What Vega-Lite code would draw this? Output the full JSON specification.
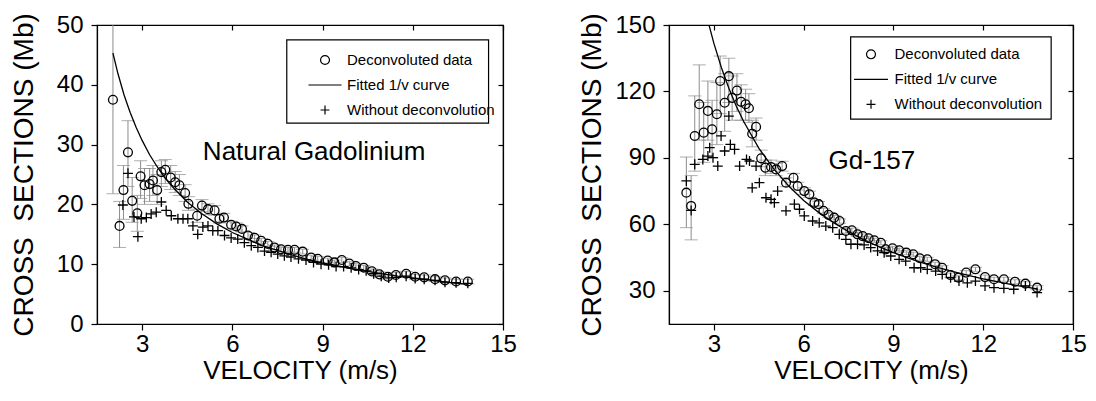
{
  "$schema": "https://vega.github.io/schema/vega-lite/v6.json",
  "padding": {"left": 9, "top": 12, "right": 5, "bottom": 5},
  "spacing": 61,
  "resolve": {"scale": {"shape": "independent"}, "legend": {"shape": "independent"}},
  "config": {
    "font": "Liberation Sans",
    "view": {"stroke": "black", "strokeWidth": 1.2},
    "axis": {"grid": false, "domainColor": "black", "domainWidth": 1.2, "tickColor": "black", "tickWidth": 1.2, "labelColor": "black", "titleColor": "black", "labelFontSize": 24, "labelFont": "Liberation Sans", "titleFont": "Liberation Sans", "titleFontWeight": "normal", "tickSize": 6, "labelFlush": false}
  },
  "datasets": {
    "natD": [
      {"series":"Deconvoluted data","v":2.03,"y":37.5,"lo":21.8,"hi":55},
      {"series":"Deconvoluted data","v":2.25,"y":16.4,"lo":12.8,"hi":20.5},
      {"series":"Deconvoluted data","v":2.38,"y":22.4,"lo":17.5,"hi":26.5},
      {"series":"Deconvoluted data","v":2.53,"y":28.7,"lo":23,"hi":34},
      {"series":"Deconvoluted data","v":2.67,"y":20.6,"lo":17,"hi":24.5},
      {"series":"Deconvoluted data","v":2.84,"y":18.5,"lo":15.5,"hi":21.5},
      {"series":"Deconvoluted data","v":2.95,"y":24.7,"lo":21,"hi":27.3},
      {"series":"Deconvoluted data","v":3.08,"y":23.2,"lo":20,"hi":26},
      {"series":"Deconvoluted data","v":3.25,"y":23.4,"lo":20.5,"hi":26},
      {"series":"Deconvoluted data","v":3.36,"y":24,"lo":21.5,"hi":26.5},
      {"series":"Deconvoluted data","v":3.5,"y":22.4,"lo":20,"hi":25},
      {"series":"Deconvoluted data","v":3.64,"y":25.4,"lo":23,"hi":27.3},
      {"series":"Deconvoluted data","v":3.77,"y":25.8,"lo":23.5,"hi":27.5},
      {"series":"Deconvoluted data","v":3.95,"y":24.5,"lo":22.5,"hi":26.5},
      {"series":"Deconvoluted data","v":4.1,"y":23.7,"lo":22,"hi":25.5},
      {"series":"Deconvoluted data","v":4.24,"y":23.2,"lo":21.5,"hi":25},
      {"series":"Deconvoluted data","v":4.43,"y":21.9,"lo":20.5,"hi":23.3},
      {"series":"Deconvoluted data","v":4.54,"y":20.1,"lo":19,"hi":21.3},
      {"series":"Deconvoluted data","v":4.83,"y":18.1,"lo":17,"hi":19.2},
      {"series":"Deconvoluted data","v":4.99,"y":19.8,"lo":18.8,"hi":20.8},
      {"series":"Deconvoluted data","v":5.19,"y":19.2,"lo":18.3,"hi":20.1},
      {"series":"Deconvoluted data","v":5.41,"y":19.0,"lo":18.2,"hi":19.8},
      {"series":"Deconvoluted data","v":5.57,"y":17.6,"lo":16.9,"hi":18.3},
      {"series":"Deconvoluted data","v":5.72,"y":17.8,"lo":17.1,"hi":18.5},
      {"series":"Deconvoluted data","v":5.96,"y":16.6,"lo":16,"hi":17.2},
      {"series":"Deconvoluted data","v":6.13,"y":16.3,"lo":15.7,"hi":16.9},
      {"series":"Deconvoluted data","v":6.32,"y":15.9,"lo":15.4,"hi":16.4},
      {"series":"Deconvoluted data","v":6.52,"y":14.8,"lo":14.3,"hi":15.3},
      {"series":"Deconvoluted data","v":6.74,"y":14.4,"lo":13.9,"hi":14.9},
      {"series":"Deconvoluted data","v":6.96,"y":13.9,"lo":13.5,"hi":14.3},
      {"series":"Deconvoluted data","v":7.18,"y":13.4,"lo":13,"hi":13.8},
      {"series":"Deconvoluted data","v":7.4,"y":12.8,"lo":12.4,"hi":13.2},
      {"series":"Deconvoluted data","v":7.62,"y":12.5,"lo":12.1,"hi":12.9},
      {"series":"Deconvoluted data","v":7.85,"y":12.4,"lo":12,"hi":12.8},
      {"series":"Deconvoluted data","v":8.07,"y":12.4,"lo":12,"hi":12.8},
      {"series":"Deconvoluted data","v":8.34,"y":12.1,"lo":11.7,"hi":12.5},
      {"series":"Deconvoluted data","v":8.62,"y":11.1,"lo":10.7,"hi":11.5},
      {"series":"Deconvoluted data","v":8.84,"y":10.9,"lo":10.5,"hi":11.3},
      {"series":"Deconvoluted data","v":9.17,"y":10.6,"lo":10.2,"hi":11},
      {"series":"Deconvoluted data","v":9.39,"y":10.3,"lo":9.9,"hi":10.7},
      {"series":"Deconvoluted data","v":9.64,"y":10.7,"lo":10.3,"hi":11.1},
      {"series":"Deconvoluted data","v":9.89,"y":10.1,"lo":9.7,"hi":10.5},
      {"series":"Deconvoluted data","v":10.11,"y":9.7,"lo":9.3,"hi":10.1},
      {"series":"Deconvoluted data","v":10.37,"y":9.4,"lo":9,"hi":9.8},
      {"series":"Deconvoluted data","v":10.64,"y":8.8,"lo":8.4,"hi":9.2},
      {"series":"Deconvoluted data","v":10.89,"y":8.3,"lo":7.9,"hi":8.7},
      {"series":"Deconvoluted data","v":11.17,"y":7.9,"lo":7.5,"hi":8.3},
      {"series":"Deconvoluted data","v":11.44,"y":8.2,"lo":7.8,"hi":8.6},
      {"series":"Deconvoluted data","v":11.78,"y":8.4,"lo":8,"hi":8.8},
      {"series":"Deconvoluted data","v":12.08,"y":7.9,"lo":7.5,"hi":8.3},
      {"series":"Deconvoluted data","v":12.38,"y":7.8,"lo":7.4,"hi":8.2},
      {"series":"Deconvoluted data","v":12.74,"y":7.5,"lo":7.1,"hi":7.9},
      {"series":"Deconvoluted data","v":13.07,"y":7.3,"lo":6.9,"hi":7.7},
      {"series":"Deconvoluted data","v":13.44,"y":7.1,"lo":6.7,"hi":7.5},
      {"series":"Deconvoluted data","v":13.83,"y":7.1,"lo":6.7,"hi":7.5}
    ],
    "natW": [
      {"series":"Without deconvolution","v":2.36,"y":19.9},
      {"series":"Without deconvolution","v":2.53,"y":25.2},
      {"series":"Without deconvolution","v":2.73,"y":17.9},
      {"series":"Without deconvolution","v":2.86,"y":14.6},
      {"series":"Without deconvolution","v":2.97,"y":17.6},
      {"series":"Without deconvolution","v":3.14,"y":17.8},
      {"series":"Without deconvolution","v":3.3,"y":18.4},
      {"series":"Without deconvolution","v":3.47,"y":18.7},
      {"series":"Without deconvolution","v":3.64,"y":20.4},
      {"series":"Without deconvolution","v":3.8,"y":19.0},
      {"series":"Without deconvolution","v":3.97,"y":18.1},
      {"series":"Without deconvolution","v":4.19,"y":17.6},
      {"series":"Without deconvolution","v":4.36,"y":17.6},
      {"series":"Without deconvolution","v":4.52,"y":17.6},
      {"series":"Without deconvolution","v":4.69,"y":16.4},
      {"series":"Without deconvolution","v":4.85,"y":15.0},
      {"series":"Without deconvolution","v":5.02,"y":16.2},
      {"series":"Without deconvolution","v":5.19,"y":16.4},
      {"series":"Without deconvolution","v":5.35,"y":15.6},
      {"series":"Without deconvolution","v":5.52,"y":15.6},
      {"series":"Without deconvolution","v":5.74,"y":14.8},
      {"series":"Without deconvolution","v":5.96,"y":14.4},
      {"series":"Without deconvolution","v":6.18,"y":14.2},
      {"series":"Without deconvolution","v":6.4,"y":13.6},
      {"series":"Without deconvolution","v":6.63,"y":13.1},
      {"series":"Without deconvolution","v":6.85,"y":12.8},
      {"series":"Without deconvolution","v":7.07,"y":12.2},
      {"series":"Without deconvolution","v":7.29,"y":12.0},
      {"series":"Without deconvolution","v":7.51,"y":11.7},
      {"series":"Without deconvolution","v":7.73,"y":11.4},
      {"series":"Without deconvolution","v":7.95,"y":11.2},
      {"series":"Without deconvolution","v":8.2,"y":10.9},
      {"series":"Without deconvolution","v":8.45,"y":10.7},
      {"series":"Without deconvolution","v":8.7,"y":10.3},
      {"series":"Without deconvolution","v":8.95,"y":10.0},
      {"series":"Without deconvolution","v":9.2,"y":9.9},
      {"series":"Without deconvolution","v":9.45,"y":9.6},
      {"series":"Without deconvolution","v":9.7,"y":9.6},
      {"series":"Without deconvolution","v":9.95,"y":9.4},
      {"series":"Without deconvolution","v":10.2,"y":9.1},
      {"series":"Without deconvolution","v":10.45,"y":8.9},
      {"series":"Without deconvolution","v":10.7,"y":8.4},
      {"series":"Without deconvolution","v":10.95,"y":8.0},
      {"series":"Without deconvolution","v":11.2,"y":7.7},
      {"series":"Without deconvolution","v":11.45,"y":7.8},
      {"series":"Without deconvolution","v":11.78,"y":8.0},
      {"series":"Without deconvolution","v":12.08,"y":7.6},
      {"series":"Without deconvolution","v":12.38,"y":7.5},
      {"series":"Without deconvolution","v":12.74,"y":7.3},
      {"series":"Without deconvolution","v":13.07,"y":7.0},
      {"series":"Without deconvolution","v":13.44,"y":6.9},
      {"series":"Without deconvolution","v":13.83,"y":6.8}
    ],
    "natF": [
      {"series":"Fitted 1/v curve","v":2.03,"y":45.3},
      {"series":"Fitted 1/v curve","v":2.2,"y":41.8},
      {"series":"Fitted 1/v curve","v":2.4,"y":38.3},
      {"series":"Fitted 1/v curve","v":2.6,"y":35.4},
      {"series":"Fitted 1/v curve","v":2.8,"y":32.9},
      {"series":"Fitted 1/v curve","v":3.0,"y":30.7},
      {"series":"Fitted 1/v curve","v":3.25,"y":28.3},
      {"series":"Fitted 1/v curve","v":3.5,"y":26.3},
      {"series":"Fitted 1/v curve","v":3.75,"y":24.5},
      {"series":"Fitted 1/v curve","v":4.0,"y":23.0},
      {"series":"Fitted 1/v curve","v":4.5,"y":20.4},
      {"series":"Fitted 1/v curve","v":5.0,"y":18.4},
      {"series":"Fitted 1/v curve","v":5.5,"y":16.7},
      {"series":"Fitted 1/v curve","v":6.0,"y":15.3},
      {"series":"Fitted 1/v curve","v":6.5,"y":14.2},
      {"series":"Fitted 1/v curve","v":7.0,"y":13.1},
      {"series":"Fitted 1/v curve","v":7.5,"y":12.3},
      {"series":"Fitted 1/v curve","v":8.0,"y":11.5},
      {"series":"Fitted 1/v curve","v":8.5,"y":10.8},
      {"series":"Fitted 1/v curve","v":9.0,"y":10.2},
      {"series":"Fitted 1/v curve","v":9.5,"y":9.7},
      {"series":"Fitted 1/v curve","v":10.0,"y":9.2},
      {"series":"Fitted 1/v curve","v":10.5,"y":8.8},
      {"series":"Fitted 1/v curve","v":11.0,"y":8.4},
      {"series":"Fitted 1/v curve","v":11.5,"y":8.0},
      {"series":"Fitted 1/v curve","v":12.0,"y":7.7},
      {"series":"Fitted 1/v curve","v":12.5,"y":7.4},
      {"series":"Fitted 1/v curve","v":13.0,"y":7.1},
      {"series":"Fitted 1/v curve","v":13.5,"y":6.8},
      {"series":"Fitted 1/v curve","v":13.83,"y":6.65}
    ],
    "gdD": [
      {"series":"Deconvoluted data","v":2.08,"y":74.3,"lo":58.5,"hi":90.4},
      {"series":"Deconvoluted data","v":2.24,"y":68.3,"lo":53,"hi":82},
      {"series":"Deconvoluted data","v":2.36,"y":99.9,"lo":84,"hi":118},
      {"series":"Deconvoluted data","v":2.51,"y":114.2,"lo":98,"hi":132},
      {"series":"Deconvoluted data","v":2.66,"y":101.4,"lo":88,"hi":115},
      {"series":"Deconvoluted data","v":2.8,"y":111.2,"lo":98,"hi":124.7},
      {"series":"Deconvoluted data","v":2.94,"y":102.9,"lo":90,"hi":116},
      {"series":"Deconvoluted data","v":3.1,"y":109.7,"lo":96,"hi":124},
      {"series":"Deconvoluted data","v":3.21,"y":124.7,"lo":110,"hi":136},
      {"series":"Deconvoluted data","v":3.36,"y":114.9,"lo":102,"hi":128},
      {"series":"Deconvoluted data","v":3.5,"y":126.9,"lo":115,"hi":135},
      {"series":"Deconvoluted data","v":3.61,"y":117.1,"lo":107,"hi":127},
      {"series":"Deconvoluted data","v":3.77,"y":120.4,"lo":111,"hi":128},
      {"series":"Deconvoluted data","v":3.91,"y":115.3,"lo":107,"hi":123},
      {"series":"Deconvoluted data","v":4.06,"y":114.2,"lo":107,"hi":121},
      {"series":"Deconvoluted data","v":4.17,"y":112.4,"lo":106,"hi":119},
      {"series":"Deconvoluted data","v":4.28,"y":100.9,"lo":95,"hi":107},
      {"series":"Deconvoluted data","v":4.41,"y":104,"lo":98,"hi":108},
      {"series":"Deconvoluted data","v":4.58,"y":89.8,"lo":86,"hi":93.5},
      {"series":"Deconvoluted data","v":4.72,"y":85.6,"lo":82,"hi":89},
      {"series":"Deconvoluted data","v":4.91,"y":85.9,"lo":83,"hi":89},
      {"series":"Deconvoluted data","v":5.08,"y":84.8,"lo":82,"hi":87.5},
      {"series":"Deconvoluted data","v":5.28,"y":86.3,"lo":84,"hi":88.5},
      {"series":"Deconvoluted data","v":5.41,"y":78.8,"lo":77,"hi":81},
      {"series":"Deconvoluted data","v":5.66,"y":81,"lo":79,"hi":83},
      {"series":"Deconvoluted data","v":5.8,"y":77.3,"lo":75.5,"hi":79},
      {"series":"Deconvoluted data","v":6.02,"y":75,"lo":73.5,"hi":76.5},
      {"series":"Deconvoluted data","v":6.19,"y":73.6,"lo":72.2,"hi":75},
      {"series":"Deconvoluted data","v":6.36,"y":69.8,"lo":68.5,"hi":71.1},
      {"series":"Deconvoluted data","v":6.5,"y":69.1,"lo":67.9,"hi":70.3},
      {"series":"Deconvoluted data","v":6.66,"y":66.1,"lo":65,"hi":67.2},
      {"series":"Deconvoluted data","v":6.83,"y":64.3,"lo":63.2,"hi":65.4},
      {"series":"Deconvoluted data","v":7.02,"y":63,"lo":62,"hi":64},
      {"series":"Deconvoluted data","v":7.2,"y":61.5,"lo":60.5,"hi":62.5},
      {"series":"Deconvoluted data","v":7.41,"y":57,"lo":56,"hi":58},
      {"series":"Deconvoluted data","v":7.61,"y":57.3,"lo":56.3,"hi":58.3},
      {"series":"Deconvoluted data","v":7.8,"y":55.5,"lo":54.5,"hi":56.5},
      {"series":"Deconvoluted data","v":7.97,"y":54.7,"lo":53.7,"hi":55.7},
      {"series":"Deconvoluted data","v":8.17,"y":53.7,"lo":52.8,"hi":54.6},
      {"series":"Deconvoluted data","v":8.36,"y":52.8,"lo":51.9,"hi":53.7},
      {"series":"Deconvoluted data","v":8.58,"y":51.7,"lo":50.8,"hi":52.6},
      {"series":"Deconvoluted data","v":8.74,"y":48.7,"lo":47.8,"hi":49.6},
      {"series":"Deconvoluted data","v":8.97,"y":49.2,"lo":48.3,"hi":50.1},
      {"series":"Deconvoluted data","v":9.19,"y":48.3,"lo":47.4,"hi":49.2},
      {"series":"Deconvoluted data","v":9.43,"y":47.2,"lo":46.3,"hi":48.1},
      {"series":"Deconvoluted data","v":9.66,"y":46.5,"lo":45.6,"hi":47.4},
      {"series":"Deconvoluted data","v":9.88,"y":44.7,"lo":43.8,"hi":45.6},
      {"series":"Deconvoluted data","v":10.13,"y":44.2,"lo":43.3,"hi":45.1},
      {"series":"Deconvoluted data","v":10.39,"y":42,"lo":41.1,"hi":42.9},
      {"series":"Deconvoluted data","v":10.63,"y":40.4,"lo":39.5,"hi":41.3},
      {"series":"Deconvoluted data","v":10.91,"y":37.1,"lo":36.2,"hi":38},
      {"series":"Deconvoluted data","v":11.17,"y":35.9,"lo":35,"hi":36.8},
      {"series":"Deconvoluted data","v":11.43,"y":38.2,"lo":37.3,"hi":39.1},
      {"series":"Deconvoluted data","v":11.74,"y":39.7,"lo":38.8,"hi":40.6},
      {"series":"Deconvoluted data","v":12.06,"y":36.2,"lo":35.3,"hi":37.1},
      {"series":"Deconvoluted data","v":12.36,"y":35.2,"lo":34.3,"hi":36.1},
      {"series":"Deconvoluted data","v":12.69,"y":35.2,"lo":34.3,"hi":36.1},
      {"series":"Deconvoluted data","v":13.06,"y":34.1,"lo":33.2,"hi":35},
      {"series":"Deconvoluted data","v":13.41,"y":33.2,"lo":32.3,"hi":34.1},
      {"series":"Deconvoluted data","v":13.8,"y":31.4,"lo":30.5,"hi":32.3}
    ],
    "gdW": [
      {"series":"Without deconvolution","v":2.08,"y":79.6},
      {"series":"Without deconvolution","v":2.24,"y":66.3},
      {"series":"Without deconvolution","v":2.36,"y":87.1},
      {"series":"Without deconvolution","v":2.63,"y":89.3},
      {"series":"Without deconvolution","v":2.8,"y":90.8},
      {"series":"Without deconvolution","v":2.86,"y":94.6},
      {"series":"Without deconvolution","v":2.97,"y":90.1},
      {"series":"Without deconvolution","v":3.13,"y":86.3},
      {"series":"Without deconvolution","v":3.24,"y":99.9},
      {"series":"Without deconvolution","v":3.36,"y":93.1},
      {"series":"Without deconvolution","v":3.5,"y":108.9},
      {"series":"Without deconvolution","v":3.55,"y":96.1},
      {"series":"Without deconvolution","v":3.69,"y":93.8},
      {"series":"Without deconvolution","v":3.86,"y":86.3},
      {"series":"Without deconvolution","v":4.09,"y":89.3},
      {"series":"Without deconvolution","v":4.19,"y":88.6},
      {"series":"Without deconvolution","v":4.28,"y":76.5},
      {"series":"Without deconvolution","v":4.41,"y":86.3},
      {"series":"Without deconvolution","v":4.52,"y":78.8},
      {"series":"Without deconvolution","v":4.74,"y":72},
      {"series":"Without deconvolution","v":4.91,"y":71.3},
      {"series":"Without deconvolution","v":5.02,"y":69.8},
      {"series":"Without deconvolution","v":5.13,"y":75},
      {"series":"Without deconvolution","v":5.41,"y":66.1},
      {"series":"Without deconvolution","v":5.69,"y":69.1},
      {"series":"Without deconvolution","v":5.86,"y":66.8},
      {"series":"Without deconvolution","v":6.02,"y":63.8},
      {"series":"Without deconvolution","v":6.3,"y":61.5},
      {"series":"Without deconvolution","v":6.52,"y":60.7},
      {"series":"Without deconvolution","v":6.74,"y":59.2},
      {"series":"Without deconvolution","v":6.97,"y":58.5},
      {"series":"Without deconvolution","v":7.19,"y":55.5},
      {"series":"Without deconvolution","v":7.41,"y":53.2},
      {"series":"Without deconvolution","v":7.58,"y":51},
      {"series":"Without deconvolution","v":7.8,"y":51},
      {"series":"Without deconvolution","v":8.02,"y":50.7},
      {"series":"Without deconvolution","v":8.24,"y":49.5},
      {"series":"Without deconvolution","v":8.47,"y":48},
      {"series":"Without deconvolution","v":8.69,"y":47.2},
      {"series":"Without deconvolution","v":8.91,"y":45.7},
      {"series":"Without deconvolution","v":9.19,"y":44.2},
      {"series":"Without deconvolution","v":9.41,"y":43.4},
      {"series":"Without deconvolution","v":9.69,"y":40.4},
      {"series":"Without deconvolution","v":9.91,"y":40.4},
      {"series":"Without deconvolution","v":10.13,"y":39.7},
      {"series":"Without deconvolution","v":10.41,"y":38.9},
      {"series":"Without deconvolution","v":10.63,"y":37.4},
      {"series":"Without deconvolution","v":10.91,"y":35.9},
      {"series":"Without deconvolution","v":11.19,"y":34.4},
      {"series":"Without deconvolution","v":11.47,"y":33.6},
      {"series":"Without deconvolution","v":11.74,"y":34.4},
      {"series":"Without deconvolution","v":12.06,"y":32.2},
      {"series":"Without deconvolution","v":12.36,"y":31.4},
      {"series":"Without deconvolution","v":12.69,"y":31.1},
      {"series":"Without deconvolution","v":13.02,"y":30.7},
      {"series":"Without deconvolution","v":13.41,"y":32.2},
      {"series":"Without deconvolution","v":13.8,"y":29.2}
    ],
    "gdF": [
      {"series":"Fitted 1/v curve","v":2.78,"y":152.9},
      {"series":"Fitted 1/v curve","v":3.0,"y":141.7},
      {"series":"Fitted 1/v curve","v":3.25,"y":130.8},
      {"series":"Fitted 1/v curve","v":3.5,"y":121.4},
      {"series":"Fitted 1/v curve","v":3.75,"y":113.3},
      {"series":"Fitted 1/v curve","v":4.0,"y":106.3},
      {"series":"Fitted 1/v curve","v":4.5,"y":94.4},
      {"series":"Fitted 1/v curve","v":5.0,"y":85.0},
      {"series":"Fitted 1/v curve","v":5.5,"y":77.3},
      {"series":"Fitted 1/v curve","v":6.0,"y":70.8},
      {"series":"Fitted 1/v curve","v":6.5,"y":65.4},
      {"series":"Fitted 1/v curve","v":7.0,"y":60.7},
      {"series":"Fitted 1/v curve","v":7.5,"y":56.7},
      {"series":"Fitted 1/v curve","v":8.0,"y":53.1},
      {"series":"Fitted 1/v curve","v":8.5,"y":50.0},
      {"series":"Fitted 1/v curve","v":9.0,"y":47.2},
      {"series":"Fitted 1/v curve","v":9.5,"y":44.7},
      {"series":"Fitted 1/v curve","v":10.0,"y":42.5},
      {"series":"Fitted 1/v curve","v":10.5,"y":40.5},
      {"series":"Fitted 1/v curve","v":11.0,"y":38.6},
      {"series":"Fitted 1/v curve","v":11.5,"y":37.0},
      {"series":"Fitted 1/v curve","v":12.0,"y":35.4},
      {"series":"Fitted 1/v curve","v":12.5,"y":34.0},
      {"series":"Fitted 1/v curve","v":13.0,"y":32.7},
      {"series":"Fitted 1/v curve","v":13.5,"y":31.5},
      {"series":"Fitted 1/v curve","v":13.8,"y":30.8}
    ]
  },
  "hconcat": [
    {
      "width": 406,
      "height": 299,
      "resolve": {"axis": {"x": "independent", "y": "independent"}},
      "layer": [
        {
          "data": {"values": [{}]},
          "mark": {"type": "rect", "fill": "white", "stroke": "black", "strokeWidth": 1.2},
          "encoding": {
            "x": {"datum": 7.81, "type": "quantitative", "scale": {"domain": [1.5, 15], "nice": false}, "axis": null},
            "x2": {"datum": 14.52},
            "y": {"datum": 47.5, "type": "quantitative", "scale": {"domain": [0, 50], "nice": false}, "axis": null},
            "y2": {"datum": 33.6}
          }
        },
        {
          "data": {"name": "natD"},
          "mark": {"type": "rule", "color": "#8c8c8c", "strokeWidth": 1, "clip": true},
          "encoding": {
            "x": {"field": "v", "type": "quantitative", "axis": null},
            "y": {"field": "lo", "type": "quantitative", "axis": null},
            "y2": {"field": "hi"}
          }
        },
        {
          "data": {"name": "natD"},
          "mark": {"type": "tick", "orient": "horizontal", "size": 13, "thickness": 1, "color": "#8c8c8c", "clip": true},
          "encoding": {
            "x": {"field": "v", "type": "quantitative", "axis": null},
            "y": {"field": "lo", "type": "quantitative", "axis": null}
          }
        },
        {
          "data": {"name": "natD"},
          "mark": {"type": "tick", "orient": "horizontal", "size": 13, "thickness": 1, "color": "#8c8c8c", "clip": true},
          "encoding": {
            "x": {"field": "v", "type": "quantitative", "axis": null},
            "y": {"field": "hi", "type": "quantitative", "axis": null}
          }
        },
        {
          "data": {"name": "natF"},
          "mark": {"type": "line", "color": "black", "strokeWidth": 1.3, "clip": true},
          "encoding": {
            "x": {"field": "v", "type": "quantitative", "axis": {"orient": "top", "labels": false, "title": null, "tickSize": -5, "values": [3, 6, 9, 12, 15]}},
            "y": {"field": "y", "type": "quantitative", "axis": {"orient": "right", "labels": false, "title": null, "tickSize": -5, "values": [0, 10, 20, 30, 40, 50]}}
          }
        },
        {
          "data": {"name": "natW"},
          "mark": {"type": "point", "filled": false, "size": 100, "stroke": "black", "strokeWidth": 1.3, "opacity": 1},
          "encoding": {
            "x": {"field": "v", "type": "quantitative", "axis": null},
            "y": {"field": "y", "type": "quantitative", "axis": null},
            "shape": {"field": "series", "type": "nominal",
              "scale": {"domain": ["Deconvoluted data", "Fitted 1/v curve", "Without deconvolution"], "range": ["circle", "M-3.7,0H3.7", "M-1,0H1M0,-1V1"]},
              "legend": {"title": null, "orient": "none", "legendX": 220.5, "legendY": 27.5, "padding": 0, "labelFontSize": 15, "labelFont": "Liberation Sans", "labelColor": "black", "symbolSize": 80, "symbolStrokeColor": "black", "symbolStrokeWidth": 1.2, "symbolFillColor": "transparent", "rowPadding": 9, "labelOffset": 14.5}}
          }
        },
        {
          "data": {"name": "natD"},
          "mark": {"type": "point", "filled": false, "size": 78, "stroke": "black", "strokeWidth": 1.3, "opacity": 1},
          "encoding": {
            "x": {"field": "v", "type": "quantitative", "title": "VELOCITY (m/s)", "scale": {"domain": [1.5, 15], "nice": false},
              "axis": {"orient": "bottom", "values": [3, 6, 9, 12, 15], "labelPadding": 2, "titleFontSize": 26, "titlePadding": 1}},
            "y": {"field": "y", "type": "quantitative", "title": "CROSS\u00a0\u00a0SECTIONS (Mb)", "scale": {"domain": [0, 50], "nice": false},
              "axis": {"orient": "left", "values": [0, 10, 20, 30, 40, 50], "labelPadding": 8, "titleFontSize": 28, "titlePadding": 18}},
            "shape": {"field": "series", "type": "nominal"}
          }
        },
        {
          "data": {"values": [{"label": "Natural Gadolinium"}]},
          "mark": {"type": "text", "align": "left", "baseline": "alphabetic", "fontSize": 26, "font": "Liberation Sans", "color": "black"},
          "encoding": {
            "x": {"datum": 5.02, "type": "quantitative", "axis": null},
            "y": {"datum": 27.35, "type": "quantitative", "axis": null},
            "text": {"field": "label"}
          }
        }
      ]
    },
    {
      "width": 404,
      "height": 299,
      "resolve": {"axis": {"x": "independent", "y": "independent"}},
      "layer": [
        {
          "data": {"values": [{}]},
          "mark": {"type": "rect", "fill": "white", "stroke": "black", "strokeWidth": 1.2},
          "encoding": {
            "x": {"datum": 7.57, "type": "quantitative", "scale": {"domain": [1.5, 15], "nice": false}, "axis": null},
            "x2": {"datum": 14.27},
            "y": {"datum": 144.6, "type": "quantitative", "scale": {"domain": [15, 150], "nice": false}, "axis": null},
            "y2": {"datum": 107.5}
          }
        },
        {
          "data": {"name": "gdD"},
          "mark": {"type": "rule", "color": "#8c8c8c", "strokeWidth": 1, "clip": true},
          "encoding": {
            "x": {"field": "v", "type": "quantitative", "axis": null},
            "y": {"field": "lo", "type": "quantitative", "axis": null},
            "y2": {"field": "hi"}
          }
        },
        {
          "data": {"name": "gdD"},
          "mark": {"type": "tick", "orient": "horizontal", "size": 13, "thickness": 1, "color": "#8c8c8c", "clip": true},
          "encoding": {
            "x": {"field": "v", "type": "quantitative", "axis": null},
            "y": {"field": "lo", "type": "quantitative", "axis": null}
          }
        },
        {
          "data": {"name": "gdD"},
          "mark": {"type": "tick", "orient": "horizontal", "size": 13, "thickness": 1, "color": "#8c8c8c", "clip": true},
          "encoding": {
            "x": {"field": "v", "type": "quantitative", "axis": null},
            "y": {"field": "hi", "type": "quantitative", "axis": null}
          }
        },
        {
          "data": {"name": "gdF"},
          "mark": {"type": "line", "color": "black", "strokeWidth": 1.3, "clip": true},
          "encoding": {
            "x": {"field": "v", "type": "quantitative", "axis": {"orient": "top", "labels": false, "title": null, "tickSize": -5, "values": [3, 6, 9, 12, 15]}},
            "y": {"field": "y", "type": "quantitative", "axis": {"orient": "right", "labels": false, "title": null, "tickSize": -5, "values": [30, 60, 90, 120, 150]}}
          }
        },
        {
          "data": {"name": "gdW"},
          "mark": {"type": "point", "filled": false, "size": 100, "stroke": "black", "strokeWidth": 1.3, "opacity": 1},
          "encoding": {
            "x": {"field": "v", "type": "quantitative", "axis": null},
            "y": {"field": "y", "type": "quantitative", "axis": null},
            "shape": {"field": "series", "type": "nominal",
              "scale": {"domain": ["Deconvoluted data", "Fitted 1/v curve", "Without deconvolution"], "range": ["circle", "M-3.8,0H3.8", "M-1,0H1M0,-1V1"]},
              "legend": {"title": null, "orient": "none", "legendX": 194.5, "legendY": 21.8, "padding": 0, "labelFontSize": 15, "labelFont": "Liberation Sans", "labelColor": "black", "symbolSize": 80, "symbolStrokeColor": "black", "symbolStrokeWidth": 1.2, "symbolFillColor": "transparent", "rowPadding": 9, "labelOffset": 16}}
          }
        },
        {
          "data": {"name": "gdD"},
          "mark": {"type": "point", "filled": false, "size": 78, "stroke": "black", "strokeWidth": 1.3, "opacity": 1},
          "encoding": {
            "x": {"field": "v", "type": "quantitative", "title": "VELOCITY (m/s)", "scale": {"domain": [1.5, 15], "nice": false},
              "axis": {"orient": "bottom", "values": [3, 6, 9, 12, 15], "labelPadding": 2, "titleFontSize": 26, "titlePadding": 1}},
            "y": {"field": "y", "type": "quantitative", "title": "CROSS\u00a0\u00a0SECTIONS (Mb)", "scale": {"domain": [15, 150], "nice": false},
              "axis": {"orient": "left", "values": [30, 60, 90, 120, 150], "labelPadding": 8, "titleFontSize": 28, "titlePadding": 8}},
            "shape": {"field": "series", "type": "nominal"}
          }
        },
        {
          "data": {"values": [{"label": "Gd-157"}]},
          "mark": {"type": "text", "align": "left", "baseline": "alphabetic", "fontSize": 26, "font": "Liberation Sans", "color": "black"},
          "encoding": {
            "x": {"datum": 6.83, "type": "quantitative", "axis": null},
            "y": {"datum": 85.0, "type": "quantitative", "axis": null},
            "text": {"field": "label"}
          }
        }
      ]
    }
  ]
}
